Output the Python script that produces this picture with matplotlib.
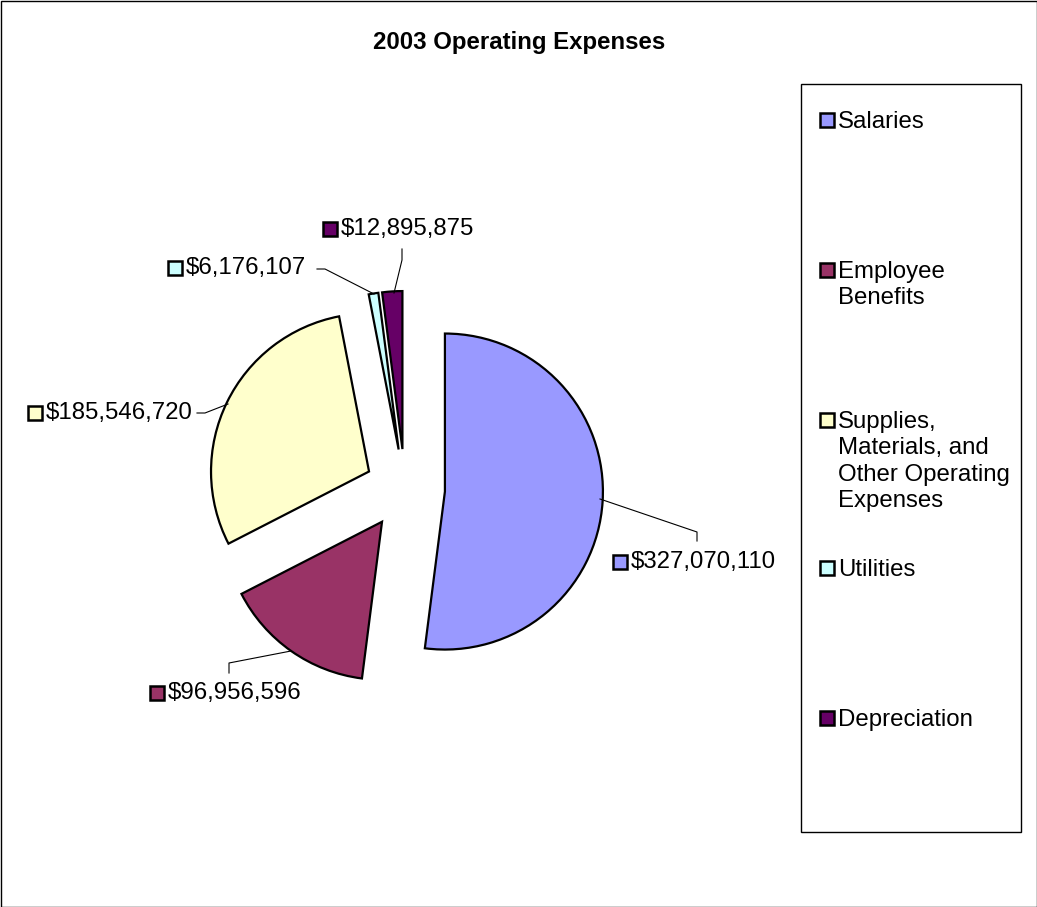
import matplotlib.pyplot as plt
from matplotlib.patches import Rectangle

plt.rcParams['font.family'] = ['Liberation Sans', 'DejaVu Sans']

# data
categories = ['Salaries', 'Employee Benefits',
              'Supplies, Materials, and Other Operating Expenses',
              'Utilities', 'Depreciation']
legend_labels = ['Salaries', 'Employee\nBenefits',
                 'Supplies,\nMaterials, and\nOther Operating\nExpenses',
                 'Utilities', 'Depreciation']
values = [327070110, 96956596, 185546720, 6176107, 12895875]
colors = ['#9999FF', '#993366', '#FFFFCC', '#CCFFFF', '#660066']

W, H = 1037, 907
fig = plt.figure(figsize=(W / 100, H / 100), dpi=100)
ax = fig.add_axes([0, 0, 1, 1])


def py(y):
    # pixel y (from top) -> data y
    return H - y


# exploded pie, clockwise from 12 o'clock (explode is in data units here)
ax.pie(values, colors=colors, startangle=90, counterclock=False,
       explode=[40] * len(values), center=(405, py(489)), radius=158,
       wedgeprops=dict(edgecolor='black', linewidth=1.6), frame=True)
ax.set_xlim(0, W)
ax.set_ylim(0, H)
ax.set_aspect('auto')
ax.axis('off')

# data labels with key squares and leader lines
label_pos = [(620, 562), (157, 693), (35, 413), (175, 268), (330, 229)]
leaders = [
    [(600, 499), (697, 532), (697, 541)],
    [(291, 651), (229, 663), (229, 673)],
    [(197, 413), (205, 413), (228, 404)],
    [(317, 269), (325, 269), (374, 294)],
    [(402, 249), (402, 260), (394, 293)],
]
fs = 17.3
for v, c, (kx, ky), pts in zip(values, colors, label_pos, leaders):
    ax.plot([kx], [py(ky)], marker='s', markersize=9.5, markerfacecolor=c,
            markeredgecolor='black', markeredgewidth=1.8)
    ax.text(kx + 11, py(ky), f'${v:,}', fontsize=fs, va='center', ha='left')
    ax.plot([p[0] for p in pts], [py(p[1]) for p in pts], color='black',
            linewidth=0.8)

# legend box
ax.add_patch(Rectangle((801, py(832)), 220, 748, fill=False,
                       edgecolor='black', linewidth=1))
leg_y = [120, 270, 420, 568, 718]
for lab, c, ly in zip(legend_labels, colors, leg_y):
    ax.plot([827], [py(ly)], marker='s', markersize=9.5, markerfacecolor=c,
            markeredgecolor='black', markeredgewidth=1.8)
    ax.text(838, py(ly) + 9, lab, fontsize=fs, va='top', ha='left',
            linespacing=1.26)

# title
ax.text(519, py(43), '2003 Operating Expenses', fontsize=fs,
        fontweight='bold', ha='center', va='center')

# chart border
ax.add_patch(Rectangle((0.5, 0.5), W - 1, H - 1, fill=False,
                       edgecolor='black', linewidth=1))

fig.savefig('out.png', dpi=100)
